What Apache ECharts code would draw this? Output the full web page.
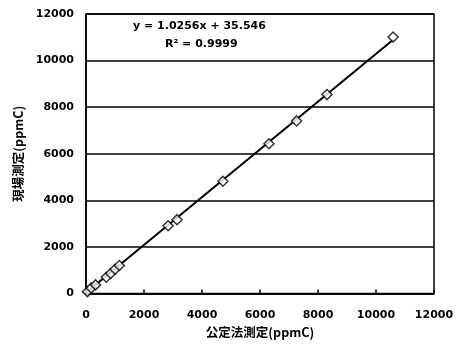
<!DOCTYPE html>
<html>
<head>
<meta charset="utf-8">
<script src="https://cdn.jsdelivr.net/npm/echarts@6/dist/echarts.min.js"></script>
<style>html,body{margin:0;padding:0;background:#fff}#c{width:460px;height:344px}</style>
</head>
<body>
<div id="c"></div>
<script>
// 公定法測定 (x) vs 現場測定 (y), ppmC
var xValues = [50, 180, 330, 700, 850, 1000, 1150, 2830, 3140, 4720, 6310, 7260, 8310, 10590];
var yValues = [80, 240, 370, 700, 860, 1040, 1200, 2910, 3170, 4820, 6430, 7410, 8540, 11010];
var trendX = [50, 10590];
var trendY = [87, 10897];
var equationText = 'y = 1.0256x + 35.546';
var r2Text = 'R² = 0.9999';
var xTitle = '公定法測定(ppmC)';
var yTitle = '現場測定(ppmC)';

var pts = xValues.map(function (x, i) { return [x, yValues[i]]; });
var trend = trendX.map(function (x, i) { return [x, trendY[i]]; });

function plain(v) { return String(v); }
var numFont = { fontFamily: 'DejaVu Sans', fontWeight: 'bold', fontSize: 11, color: '#000', formatter: plain };
var chart = echarts.init(document.getElementById('c'), null, { renderer: 'canvas' });
chart.setOption({
  animation: false,
  backgroundColor: '#fff',
  grid: { left: 86, right: 26, top: 14, bottom: 50, show: true, borderColor: '#000', borderWidth: 1.5 },
  xAxis: {
    type: 'value', min: 0, max: 12000, interval: 2000,
    name: xTitle, nameLocation: 'middle', nameGap: 33,
    nameTextStyle: { fontFamily: 'Noto Sans CJK JP', fontWeight: 'bold', fontSize: 12.5, color: '#000' },
    axisLine: { show: true, lineStyle: { color: '#000', width: 1.5 } },
    axisTick: { show: true, inside: true, length: 4, lineStyle: { color: '#000', width: 1.5 } },
    axisLabel: Object.assign({ margin: 16 }, numFont),
    splitLine: { show: false }
  },
  yAxis: {
    type: 'value', min: 0, max: 12000, interval: 2000,
    name: yTitle, nameLocation: 'middle', nameGap: 60, nameRotate: 90,
    nameTextStyle: { fontFamily: 'Noto Sans CJK JP', fontWeight: 'bold', fontSize: 12.5, color: '#000' },
    axisLine: { show: true, lineStyle: { color: '#000', width: 1.5 } },
    axisTick: { show: false },
    axisLabel: Object.assign({ margin: 12 }, numFont),
    splitLine: { show: true, lineStyle: { color: '#000', width: 1.5 } }
  },
  series: [
    {
      type: 'line', data: trend, symbol: 'none', z: 2,
      lineStyle: { color: '#000', width: 2 }
    },
    {
      type: 'scatter', data: pts, symbol: 'diamond', symbolSize: 10, z: 3,
      itemStyle: { color: '#fff', borderColor: '#000', borderWidth: 1.5 }
    }
  ],
  graphic: [
    { type: 'text', left: 133, top: 21, style: { text: equationText, font: 'bold 11px "DejaVu Sans"', fill: '#000' } },
    { type: 'text', left: 165, top: 39, style: { text: r2Text, font: 'bold 11px "DejaVu Sans"', fill: '#000' } }
  ]
});
</script>
</body>
</html>
